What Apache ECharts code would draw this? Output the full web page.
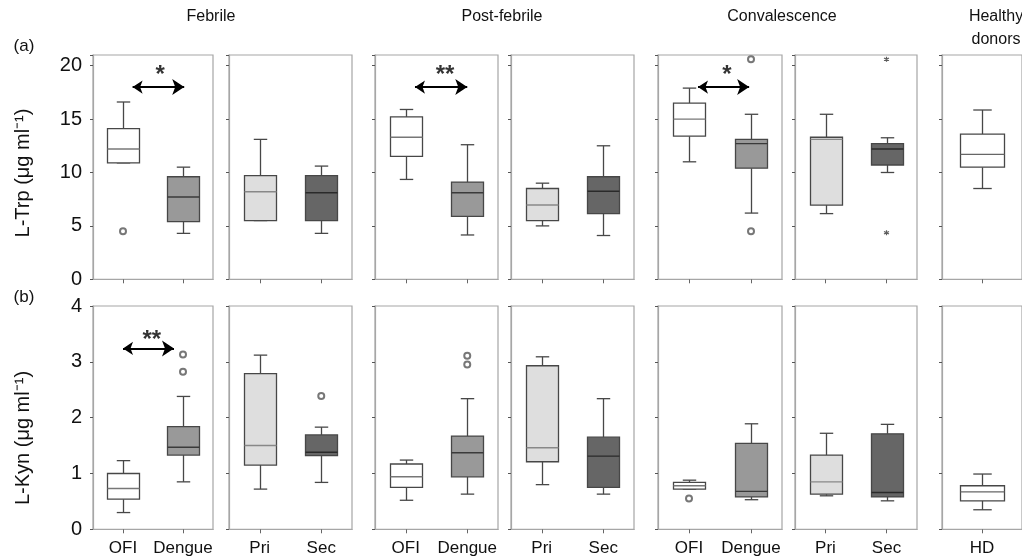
<!DOCTYPE html>
<html>
<head>
<meta charset="utf-8">
<script src="https://cdn.jsdelivr.net/npm/echarts@6/dist/echarts.min.js"></script>
<style>
html,body{margin:0;padding:0;background:#fff;}
#chart{width:1022px;height:559px;}
</style>
</head>
<body>
<div id="chart"></div>
<script>
// ---------- data ----------
const categories = [['OFI','Dengue'],['Pri','Sec'],['OFI','Dengue'],['Pri','Sec'],['OFI','Dengue'],['Pri','Sec'],['HD']];
const phaseTitles = ['Febrile','Post-febrile','Convalescence'];
const healthyTitle = ['Healthy','donors'];
const rowTags = ['(a)','(b)'];
const rowNames = ['L-Trp (\u03bcg ml\u207b\u00b9)','L-Kyn (\u03bcg ml\u207b\u00b9)'];
const trpTicks = [0,5,10,15,20];
const kynTicks = [0,1,2,3,4];

// boxes: [min, Q1, median, Q3, max] per category, per panel
const trpBoxes = [
  [[10.9,10.9,12.2,14.1,16.6],[4.3,5.4,7.7,9.6,10.5]],
  [[5.5,5.5,8.2,9.7,13.1],[4.3,5.5,8.1,9.7,10.6]],
  [[9.35,11.5,13.3,15.2,15.9],[4.15,5.9,8.1,9.1,12.6]],
  [[5.0,5.5,6.95,8.5,9.0],[4.1,6.15,8.25,9.6,12.5]],
  [[11.0,13.4,15.0,16.5,17.9],[6.2,10.4,12.7,13.1,15.45]],
  [[6.15,6.95,13.1,13.3,15.45],[10.0,10.7,12.2,12.7,13.25]],
  [[8.5,10.5,11.7,13.6,15.85]]
];
const kynBoxes = [
  [[0.30,0.54,0.73,1.00,1.23],[0.85,1.33,1.47,1.84,2.38]],
  [[0.72,1.15,1.50,2.79,3.12],[0.84,1.32,1.38,1.69,1.83]],
  [[0.52,0.75,0.94,1.17,1.24],[0.63,0.94,1.37,1.67,2.34]],
  [[0.80,1.21,1.46,2.93,3.09],[0.63,0.75,1.31,1.65,2.34]],
  [[0.72,0.72,0.78,0.84,0.88],[0.53,0.58,0.68,1.54,1.89]],
  [[0.60,0.63,0.85,1.33,1.72],[0.51,0.58,0.66,1.71,1.88]],
  [[0.35,0.51,0.67,0.78,0.99]]
];
// outliers [categoryIndex, value] per panel
const trpOutliers = [[[0,4.5]],[],[],[],[[1,4.5],[1,20.6]],[],[]];
const trpExtremes = [[],[],[],[],[],[[1,20.6],[1,4.35]],[]];
const kynOutliers = [[[1,3.13],[1,2.82]],[[1,2.39]],[[1,3.11],[1,2.95]],[],[[0,0.55]],[],[]];
const kynExtremes = [[],[],[],[],[],[],[]];
// significance: [panel, arrowFrom, arrowTo, arrowY, starX, starY, text]
const trpSignificance = [[0,0.16,1.02,18.0,0.62,19.1,'*'],[2,0.15,1.0,18.0,0.64,19.1,'**'],[4,0.145,0.97,18.0,0.61,19.1,'*']];
const kynSignificance = [[0,0.0,0.85,3.24,0.48,3.39,'**']];

// ---------- layout / style ----------
const FONT = 'Liberation Sans, Arial, Helvetica, sans-serif';
const panelLeft = [93,229,375,511,658,795,942];
const panelWidth = [120,123,123,123,124,122,89];
const rowTop = [55,306];
const rowHeight = [224.3,223.3];
const yMax = [21,4];
const yInterval = [5,1];
const boxPx = [32,32,32,32,32,32,44];
const fills = {OFI:'#ffffff', Dengue:'#999999', Pri:'#dedede', Sec:'#666666', HD:'#ffffff'};
const medians = {OFI:'#777777', Dengue:'#3a3a3a', Pri:'#888888', Sec:'#2a2a2a', HD:'#666666'};
const edge = '#474747';
const frame = '#a6a6a6';

const rows = [
  {boxes:trpBoxes, outliers:trpOutliers, extremes:trpExtremes, sig:trpSignificance, ticks:trpTicks},
  {boxes:kynBoxes, outliers:kynOutliers, extremes:kynExtremes, sig:kynSignificance, ticks:kynTicks}
];

function makeRenderer(cats, bw){
  return function(params, api){
    const i = api.value(0);
    const mn = api.value(1), q1 = api.value(2), md = api.value(3), q3 = api.value(4), mx = api.value(5);
    const pTop = api.coord([i,mx]), pQ3 = api.coord([i,q3]), pMd = api.coord([i,md]), pQ1 = api.coord([i,q1]), pBot = api.coord([i,mn]);
    const cx = Math.round(pTop[0]) + 0.5;
    const hw = bw/2, cap = bw*0.21;
    const cat = cats[i];
    const ls = {stroke:edge, lineWidth:1.3};
    return {type:'group', children:[
      {type:'line', shape:{x1:cx,y1:pTop[1],x2:cx,y2:pQ3[1]}, style:ls},
      {type:'line', shape:{x1:cx-cap,y1:pTop[1],x2:cx+cap,y2:pTop[1]}, style:ls},
      {type:'line', shape:{x1:cx,y1:pQ1[1],x2:cx,y2:pBot[1]}, style:ls},
      {type:'line', shape:{x1:cx-cap,y1:pBot[1],x2:cx+cap,y2:pBot[1]}, style:ls},
      {type:'rect', shape:{x:cx-hw, y:pQ3[1], width:bw, height:pQ1[1]-pQ3[1]}, style:{fill:fills[cat], stroke:edge, lineWidth:1.3}},
      {type:'line', shape:{x1:cx-hw,y1:pMd[1],x2:cx+hw,y2:pMd[1]}, style:{stroke:medians[cat], lineWidth:1.4}}
    ]};
  };
}

const grids = [], xAxes = [], yAxes = [], series = [];
rows.forEach((row, r) => {
  for (let p = 0; p < 7; p++) {
    const gi = grids.length;
    grids.push({left:panelLeft[p], top:rowTop[r], width:panelWidth[p], height:rowHeight[r],
      show:true, borderColor:frame, borderWidth:1.2, backgroundColor:'transparent'});
    const xi = xAxes.length;
    xAxes.push({type:'category', gridIndex:gi, data:categories[p], boundaryGap:true,
      axisLine:{show:true, onZero:false, lineStyle:{color:frame, width:1.2}},
      axisTick:{show:true, alignWithLabel:true, interval:0, length:4, lineStyle:{color:'#666'}},
      axisLabel:{show:r===1, interval:0, hideOverlap:false, margin:11, fontSize:17, color:'#111', fontFamily:FONT},
      splitLine:{show:false}});
    const tickSet = row.ticks;
    yAxes.push({type:'value', gridIndex:gi, min:0, max:yMax[r], interval:yInterval[r],
      axisLine:{show:true, onZero:false, lineStyle:{color:frame, width:1.2}},
      axisTick:{show:true, length:3, lineStyle:{color:'#555'}},
      axisLabel:{show:p===0, margin:11, fontSize:20, color:'#111', fontFamily:FONT,
        formatter: v => (tickSet.indexOf(v) >= 0 ? String(v) : '')},
      splitLine:{show:false}});
    series.push({type:'custom', xAxisIndex:xi, yAxisIndex:gi, silent:true, z:2,
      encode:{x:0, y:[1,2,3,4,5]},
      data: row.boxes[p].map((b,i) => [i].concat(b)),
      renderItem: makeRenderer(categories[p], boxPx[p])});
    if (row.outliers[p].length) {
      series.push({type:'scatter', xAxisIndex:xi, yAxisIndex:gi, silent:true, z:3,
        symbol:'emptyCircle', symbolSize:6,
        itemStyle:{color:'#555', borderColor:'#555', borderWidth:1},
        data: row.outliers[p]});
    }
    if (row.extremes[p].length) {
      series.push({type:'scatter', xAxisIndex:xi, yAxisIndex:gi, silent:true, z:3,
        symbol:'path://M5,0L5,10M0.7,2.5L9.3,7.5M0.7,7.5L9.3,2.5', symbolSize:5,
        itemStyle:{color:'transparent', borderColor:'#333', borderWidth:1.2},
        data: row.extremes[p]});
    }
    const sigs = row.sig.filter(s => s[0] === p);
    if (sigs.length) {
      const vxi = xAxes.length;
      xAxes.push({type:'value', gridIndex:gi, min:-0.5, max:1.5, show:false,
        axisLine:{onZero:false}});
      sigs.forEach(s => {
        series.push({type:'lines', coordinateSystem:'cartesian2d', xAxisIndex:vxi, yAxisIndex:gi,
          silent:true, z:4, symbol:['arrow','arrow'], symbolSize:[10,12],
          lineStyle:{color:'#000', width:2, opacity:1},
          data:[{coords:[[s[1],s[3]],[s[2],s[3]]]}]});
        series.push({type:'scatter', xAxisIndex:vxi, yAxisIndex:gi, silent:true, z:4,
          symbol:'circle', symbolSize:1, itemStyle:{color:'transparent'},
          label:{show:true, position:'inside', formatter:s[6], color:'#000', fontSize:24,
            fontWeight:'bold', fontFamily:FONT},
          data:[[s[4], s[5]]]});
      });
    }
  }
});

const titleCenters = [211, 502, 782];
const graphics = [];
phaseTitles.forEach((t,i) => graphics.push({type:'text', x:titleCenters[i], y:17,
  style:{text:t, font:'16px '+FONT, fill:'#111', textAlign:'center', textVerticalAlign:'middle'}}));
graphics.push({type:'text', x:996, y:17, style:{text:healthyTitle[0], font:'16px '+FONT, fill:'#111', textAlign:'center', textVerticalAlign:'middle'}});
graphics.push({type:'text', x:996, y:40, style:{text:healthyTitle[1], font:'16px '+FONT, fill:'#111', textAlign:'center', textVerticalAlign:'middle'}});
graphics.push({type:'text', x:24, y:46, style:{text:rowTags[0], font:'17px '+FONT, fill:'#111', textAlign:'center', textVerticalAlign:'middle'}});
graphics.push({type:'text', x:24, y:297, style:{text:rowTags[1], font:'17px '+FONT, fill:'#111', textAlign:'center', textVerticalAlign:'middle'}});
graphics.push({type:'text', x:23, y:173, rotation:Math.PI/2, style:{text:rowNames[0], font:'20px '+FONT, fill:'#111', textAlign:'center', textVerticalAlign:'middle'}});
graphics.push({type:'text', x:23, y:438, rotation:Math.PI/2, style:{text:rowNames[1], font:'20px '+FONT, fill:'#111', textAlign:'center', textVerticalAlign:'middle'}});

const chart = echarts.init(document.getElementById('chart'), null, {renderer:'canvas'});
chart.setOption({
  animation:false,
  backgroundColor:'#fff',
  grid:grids, xAxis:xAxes, yAxis:yAxes, series:series,
  graphic:graphics
});
</script>
</body>
</html>
